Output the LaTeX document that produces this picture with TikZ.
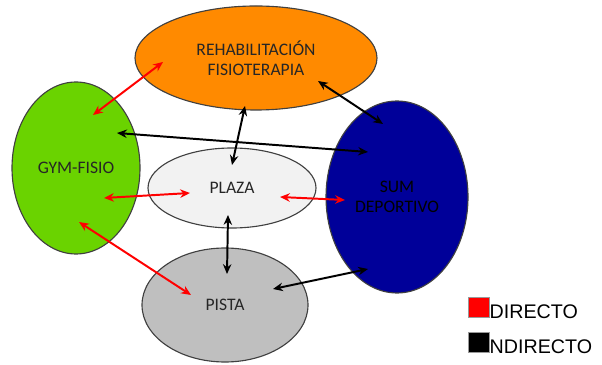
\documentclass[tikz,border=0pt]{standalone}
\usepackage{fontspec}
\setmainfont{Carlito}
\newfontfamily\legendfont{Liberation Sans}
\usepackage{xcolor}
\usepackage{tikz}
\usetikzlibrary{arrows.meta,shapes.geometric}

\definecolor{rehabcol}{HTML}{FF8A00}
\definecolor{gymcol}{HTML}{6AD300}
\definecolor{plazacol}{HTML}{F2F2F2}
\definecolor{sumcol}{HTML}{000099}
\definecolor{pistacol}{HTML}{BFBFBF}

\begin{document}
\begin{tikzpicture} [x=0.025cm, y=-0.025cm,
    zone/.style={draw=black!75, line width=0.8pt, ellipse, text=black!85, align=center,
                 inner sep=0pt, font=\fontsize{12.5}{14}\selectfont},
    direct/.style={{Stealth[length=7pt,width=6pt]}-{Stealth[length=7pt,width=6pt]}, red, line width=1.4pt},
    indirect/.style={{Stealth[length=7pt,width=6pt]}-{Stealth[length=7pt,width=6pt]}, black, line width=1.4pt} ]
    \useasboundingbox (0,0) rectangle (602,365);

    \node [zone, fill=rehabcol, minimum width=242*0.025cm, minimum height=104*0.025cm] (rehab) at (256,58) {REHABILITACIÓN\\FISIOTERAPIA};
    \node [zone, fill=gymcol, minimum width=128*0.025cm, minimum height=172*0.025cm] (gym) at (76,168) {GYM-FISIO};
    \node [zone, fill=sumcol, minimum width=142*0.025cm, minimum height=192*0.025cm, text=black] (sum) at (397,197) {SUM\\DEPORTIVO};
    \node [zone, fill=pistacol, minimum width=166*0.025cm, minimum height=114*0.025cm] (pista) at (225,305) {PISTA};
    \node [zone, fill=plazacol, minimum width=168*0.025cm, minimum height=80*0.025cm] (plaza) at (232,188) {PLAZA};

    % directo
    \draw [direct] ([shift={(-93,4)}]rehab.center) -- ([shift={(17,-53)}]gym.center);
    \draw [direct] ([shift={(28,30)}]gym.center) -- ([shift={(-42,5)}]plaza.center);
    \draw [direct] ([shift={(48,9)}]plaza.center) -- ([shift={(-52,3)}]sum.center);
    \draw [direct] ([shift={(3,54)}]gym.center) -- ([shift={(-34,-10)}]pista.center);

    % indirecto
    \draw [indirect] ([shift={(41,-35)}]gym.center) -- ([shift={(-29,-45)}]sum.center);
    \draw [indirect] ([shift={(62,23)}]rehab.center) -- ([shift={(-14,-73)}]sum.center);
    \draw [indirect] ([shift={(-11,48)}]rehab.center) -- ([shift={(0,-23)}]plaza.center);
    \draw [indirect] ([shift={(-4,27)}]plaza.center) -- ([shift={(2,-31)}]pista.center);
    \draw [indirect] ([shift={(48,-16)}]pista.center) -- ([shift={(-29,72)}]sum.center);

    % leyenda
    \foreach \col/\y/\name in {red/297/dirkey, black/332/indkey}{
        \node [fill=\col, draw=black!40, line width=0.3pt, minimum width=21*0.025cm, minimum height=20*0.025cm,
               inner sep=0pt, anchor=north west] (\name) at (468,\y) {};
    }
    \node [anchor=base west, inner sep=0pt, font=\legendfont\fontsize{14}{16}\selectfont] at ([yshift=-0.5pt]dirkey.south east) {DIRECTO};
    \node [anchor=base west, inner sep=0pt, font=\legendfont\fontsize{14}{16}\selectfont] at ([yshift=-0.5pt]indkey.south east) {NDIRECTO};
\end{tikzpicture}
\end{document}
